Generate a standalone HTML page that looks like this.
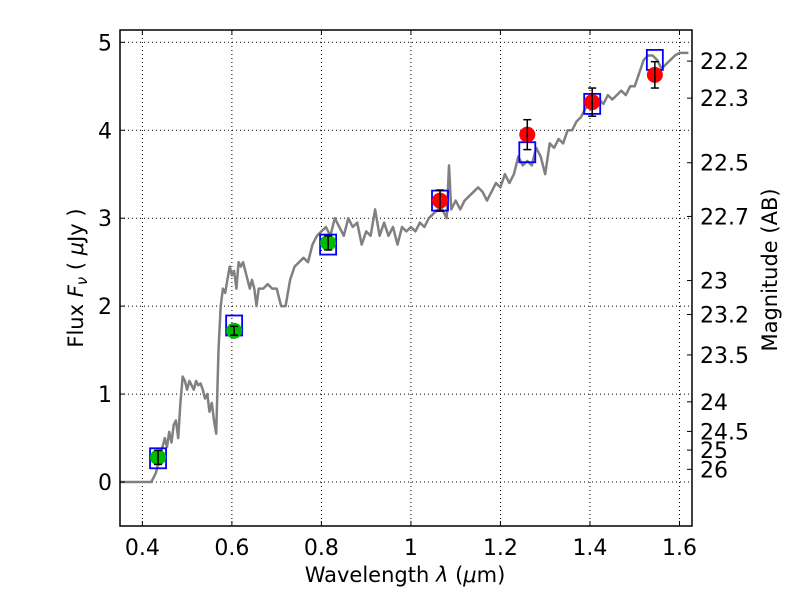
<!DOCTYPE html>
<html><head><meta charset="utf-8"><style>
body{margin:0;background:#fff;}
svg text{font-family:"DejaVu Sans","Liberation Sans",sans-serif;fill:#000;}
</style></head><body>
<svg id="chart" width="800" height="600" viewBox="0 0 800 600">
<rect width="800" height="600" fill="#fff"/>
<g id="grid"></g><g id="spec"></g><g id="marks"></g><g id="axes"></g>
<text x="405" y="582" font-size="21" text-anchor="middle">Wavelength  <tspan font-style="italic">λ</tspan> (<tspan font-style="italic">μ</tspan>m)</text>
<text transform="translate(83,278) rotate(-90)" font-size="21" text-anchor="middle">Flux  <tspan font-style="italic">F<tspan font-size="15" dy="4">ν</tspan></tspan><tspan dy="-4">  ( </tspan><tspan font-style="italic">μ</tspan>Jy )</text>
<text transform="translate(777,270) rotate(-90)" font-size="21" text-anchor="middle">Magnitude (AB)</text>
</svg>
<script>
const xTicks=[0.4,0.6,0.8,1.0,1.2,1.4,1.6];
const xTickLabels=["0.4","0.6","0.8","1","1.2","1.4","1.6"];
const yTicks=[0,1,2,3,4,5];
const magTicks=[22.2,22.3,22.5,22.7,23,23.2,23.5,24,24.5,25,26];
const specWave=[0.35,0.42,0.43,0.44,0.45,0.455,0.46,0.465,0.47,0.475,0.48,0.485,0.49,0.495,0.5,0.505,0.51,0.515,0.52,0.525,0.53,0.535,0.54,0.545,0.55,0.555,0.56,0.565,0.57,0.575,0.58,0.585,0.59,0.595,0.6,0.605,0.61,0.615,0.62,0.625,0.63,0.635,0.64,0.645,0.65,0.655,0.66,0.67,0.68,0.69,0.7,0.71,0.72,0.73,0.74,0.75,0.76,0.77,0.78,0.79,0.8,0.81,0.82,0.83,0.84,0.85,0.86,0.87,0.88,0.89,0.9,0.91,0.92,0.93,0.94,0.95,0.96,0.97,0.98,0.99,1.0,1.01,1.02,1.03,1.04,1.05,1.06,1.07,1.08,1.085,1.09,1.1,1.11,1.12,1.13,1.14,1.15,1.16,1.17,1.18,1.19,1.2,1.21,1.22,1.23,1.24,1.25,1.26,1.27,1.28,1.29,1.3,1.31,1.32,1.33,1.34,1.35,1.36,1.37,1.38,1.39,1.4,1.41,1.42,1.43,1.44,1.45,1.46,1.47,1.48,1.49,1.5,1.51,1.52,1.53,1.54,1.55,1.56,1.57,1.58,1.59,1.6,1.62];
const specFlux=[0,0,0.1,0.3,0.5,0.4,0.57,0.45,0.65,0.7,0.5,0.9,1.2,1.15,1.05,1.15,1.1,1.05,1.15,1.1,1.12,1.05,0.95,1.0,0.8,0.9,0.7,0.55,1.5,2.0,2.2,2.15,2.3,2.45,2.35,2.4,2.2,2.5,2.45,2.5,2.4,2.3,2.2,2.3,2.2,2.0,2.2,2.2,2.25,2.2,2.2,2.0,2.0,2.3,2.45,2.5,2.55,2.5,2.7,2.8,2.85,2.9,2.8,3.0,2.9,2.8,3.0,2.9,2.95,2.7,2.85,2.8,3.1,2.8,2.95,2.8,2.9,2.7,2.9,2.85,2.9,2.85,2.95,2.9,3.0,3.05,3.1,3.1,3.0,3.6,3.1,3.2,3.1,3.2,3.25,3.3,3.35,3.3,3.2,3.3,3.4,3.35,3.5,3.4,3.5,3.7,3.6,3.65,3.6,3.8,3.7,3.5,3.85,3.8,3.9,3.85,4.0,4.0,4.1,4.15,4.25,4.3,4.3,4.35,4.3,4.4,4.35,4.4,4.45,4.4,4.5,4.5,4.65,4.8,4.85,4.85,4.8,4.7,4.75,4.8,4.85,4.88,4.88];
const greenWave=[0.435,0.605,0.815];
const greenFlux=[0.28,1.72,2.72];
const greenErr=[0.08,0.05,0.08];
const redWave=[1.065,1.26,1.405,1.545];
const redFlux=[3.2,3.95,4.32,4.63];
const redErr=[0.12,0.17,0.16,0.15];
const boxWave=[0.435,0.605,0.815,1.065,1.26,1.405,1.545];
const boxFlux=[0.27,1.78,2.70,3.2,3.75,4.3,4.8];

const L=120,R=692,T=30,B=526;
const X0=0.35,X1=1.628,Y0=-0.5,Y1=5.14;
const sx=v=>L+(v-X0)/(X1-X0)*(R-L);
const sy=v=>B-(v-Y0)/(Y1-Y0)*(B-T);
const NS="http://www.w3.org/2000/svg";
function mk(tag,attrs,parent){const e=document.createElementNS(NS,tag);for(const k in attrs)e.setAttribute(k,attrs[k]);parent.appendChild(e);return e;}
const grid=document.getElementById('grid'),spec=document.getElementById('spec'),marks=document.getElementById('marks'),axes=document.getElementById('axes');

xTicks.forEach((t,i)=>{
  const g=mk('line',{x1:sx(t),x2:sx(t),y1:T,y2:B,stroke:'#000','stroke-width':1,'stroke-dasharray':'1,3'},grid);
  
  
  mk('line',{x1:sx(t),x2:sx(t),y1:B,y2:B-5,stroke:'#000'},axes);
  mk('line',{x1:sx(t),x2:sx(t),y1:T,y2:T+5,stroke:'#000'},axes);
  const tx=mk('text',{x:sx(t),y:B+29,'font-size':22,'text-anchor':'middle'},axes);
  tx.textContent=xTickLabels[i];
  
  
});
yTicks.forEach(t=>{
  const g=mk('line',{x1:L,x2:R,y1:sy(t),y2:sy(t),stroke:'#000','stroke-width':1,'stroke-dasharray':'1,3'},grid);
  
  
  mk('line',{x1:L,x2:L+5,y1:sy(t),y2:sy(t),stroke:'#000'},axes);
  const tx=mk('text',{x:L-8,y:sy(t)+8,'font-size':22,'text-anchor':'end'},axes);
  tx.textContent=String(t);
  
  
});
magTicks.forEach(m=>{
  const f=Math.pow(10,(23.9-m)/2.5);
  mk('line',{x1:R-5,x2:R,y1:sy(f),y2:sy(f),stroke:'#000'},axes);
  const tx=mk('text',{x:R+8,y:sy(f)+8,'font-size':22},axes);
  tx.textContent=String(m);
  
  
});
const fr=mk('rect',{x:L,y:T,width:R-L,height:B-T,fill:'none',stroke:'#000','stroke-width':1.5},axes);



const pts=specWave.map((w,i)=>sx(w).toFixed(1)+','+sy(specFlux[i]).toFixed(1)).join(' ');
const sp=mk('polyline',{points:pts,fill:'none',stroke:'#808080','stroke-width':2.5,'stroke-linejoin':'round'},spec);



function pointSet(waves,fluxes,errs,color,name){
  waves.forEach((w,i)=>{
    const c=mk('circle',{cx:sx(w),cy:sy(fluxes[i]),r:8,fill:color},marks);
    
    
    const y1=sy(fluxes[i]+errs[i]),y2=sy(fluxes[i]-errs[i]);
    mk('line',{x1:sx(w),x2:sx(w),y1:y1,y2:y2,stroke:'#000','stroke-width':1.5},marks);
    mk('line',{x1:sx(w)-4,x2:sx(w)+4,y1:y1,y2:y1,stroke:'#000','stroke-width':1.5},marks);
    mk('line',{x1:sx(w)-4,x2:sx(w)+4,y1:y2,y2:y2,stroke:'#000','stroke-width':1.5},marks);
  });
}
boxWave.forEach((w,i)=>{
  const b=mk('rect',{x:sx(w)-8,y:sy(boxFlux[i])-10,width:16,height:20,fill:'none',stroke:'#0000ff','stroke-width':1.8},marks);
  
  
});
pointSet(greenWave,greenFlux,greenErr,'#00bb00','green-photometry-point');
pointSet(redWave,redFlux,redErr,'#ff0000','red-photometry-point');
</script>
</body></html>
